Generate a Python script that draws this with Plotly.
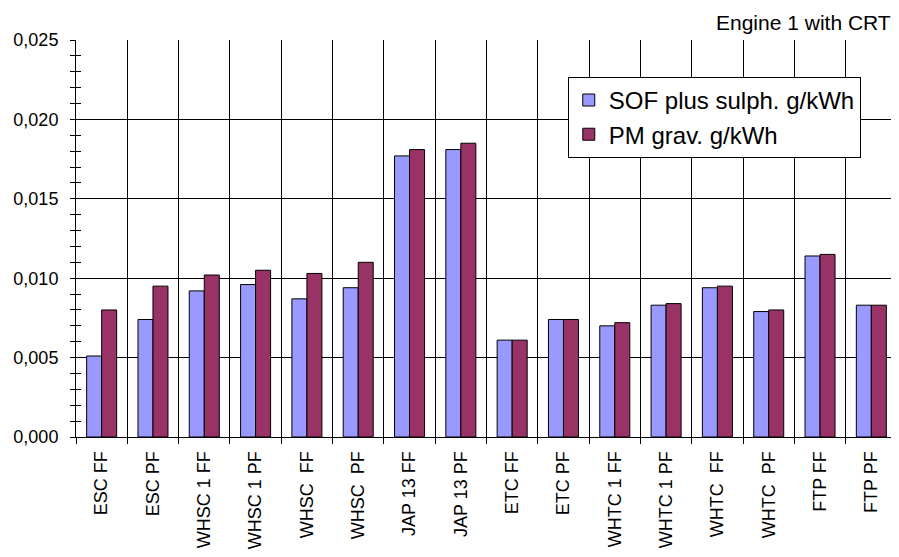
import plotly.graph_objects as go

categories = ["ESC FF", "ESC PF", "WHSC 1 FF", "WHSC 1 PF", "WHSC\u00a0 FF", "WHSC\u00a0 PF",
              "JAP 13 FF", "JAP 13 PF", "ETC FF", "ETC PF", "WHTC 1 FF", "WHTC 1 PF",
              "WHTC\u00a0 FF", "WHTC\u00a0 PF", "FTP FF", "FTP PF"]
sof_sulph = [0.0051, 0.0074, 0.0092, 0.0096, 0.0087, 0.0094, 0.0177, 0.0181,
             0.0061, 0.0074, 0.0070, 0.0083, 0.0094, 0.0079, 0.0114, 0.0083]
pm_grav = [0.0080, 0.0095, 0.0102, 0.0105, 0.0103, 0.0110, 0.0181, 0.0185,
           0.0061, 0.0074, 0.0072, 0.0084, 0.0095, 0.0080, 0.0115, 0.0083]
series_names = ["SOF plus sulph. g/kWh", "PM grav. g/kWh"]
y_ticks = [0.0, 0.005, 0.010, 0.015, 0.020, 0.025]
y_tick_text = ["0,000", "0,005", "0,010", "0,015", "0,020", "0,025"]
title_text = "Engine 1 with CRT"

FONT = "Liberation Sans, Arial, sans-serif"

fig = go.Figure()
fig.add_trace(go.Bar(x=categories, y=sof_sulph, name=series_names[0],
                     marker=dict(color="#9999FF", line=dict(color="#000000", width=1))))
fig.add_trace(go.Bar(x=categories, y=pm_grav, name=series_names[1],
                     marker=dict(color="#993366", line=dict(color="#000000", width=1))))
# invisible trace for the overlay axis (inside ticks)
fig.add_trace(go.Scatter(x=[categories[0]], y=[0], yaxis="y2", mode="markers",
                         marker=dict(opacity=0, size=1), showlegend=False, hoverinfo="skip"))

fig.update_layout(
    width=891, height=549,
    margin=dict(l=68, r=2, t=32, b=120),
    paper_bgcolor="white", plot_bgcolor="white",
    font=dict(family=FONT, size=18, color="#000000"),
    barmode="group", bargap=0.415, bargroupgap=0,
    showlegend=True,
    legend=dict(x=0.599, y=0.907, xanchor="left", yanchor="top",
                bgcolor="white", bordercolor="#000000", borderwidth=1,
                font=dict(size=24, family=FONT), tracegroupgap=0,
                itemwidth=30),
    xaxis=dict(type="category", range=[-0.5, len(categories) - 0.5],
               tickson="boundaries", showgrid=True,
               gridcolor="#000000", gridwidth=1, ticks="outside", ticklen=6,
               tickcolor="#000000", tickangle=-90, showline=True,
               linecolor="#000000", linewidth=1, tickfont=dict(size=18),
               ticklabelstandoff=6, automargin=False),
    yaxis=dict(range=[0, 0.025], tickvals=y_ticks, ticktext=y_tick_text,
               showgrid=True, gridcolor="#000000", gridwidth=1,
               ticks="outside", ticklen=5, tickcolor="#000000",
               showline=True, linecolor="#000000", linewidth=1,
               tickfont=dict(size=18), zeroline=False,
               minor=dict(dtick=0.001, tick0=0, ticks="outside", ticklen=5,
                          tickcolor="#000000", showgrid=False),
               ticklabelstandoff=8, automargin=False),
    yaxis2=dict(range=[0, 0.025], overlaying="y", side="left",
                tickvals=y_ticks, showticklabels=False, showgrid=False,
                ticks="inside", ticklen=5, tickcolor="#000000", zeroline=False,
                automargin=False,
                minor=dict(dtick=0.001, tick0=0, ticks="inside", ticklen=5,
                           tickcolor="#000000", showgrid=False)),
    annotations=[dict(text=title_text, xref="paper", yref="paper", x=0.995, y=1.045,
                      xanchor="right", yanchor="middle", showarrow=False,
                      font=dict(size=21, family=FONT))],
)

fig.write_html("out.html")
